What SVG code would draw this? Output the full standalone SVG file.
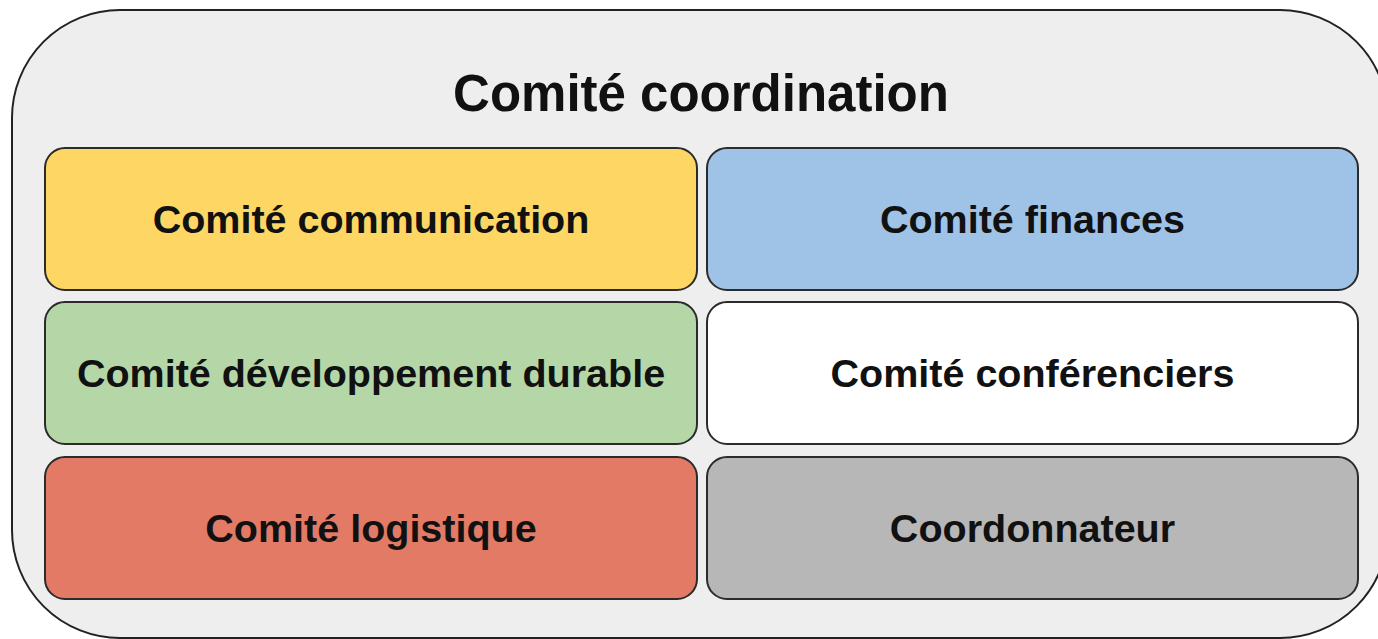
<svg xmlns="http://www.w3.org/2000/svg" width="1378" height="639" viewBox="0 0 1378 639">
  <style>
    .box { stroke: #2b2b2b; stroke-width: 2; }
    .lbl { font-family: "Liberation Sans", Arial, sans-serif; font-weight: bold; font-size: 39.5px; fill: #111111; text-anchor: middle; }
    .title { font-family: "Liberation Sans", Arial, sans-serif; font-weight: bold; font-size: 51px; fill: #111111; text-anchor: middle; }
  </style>
  <rect width="1378" height="639" fill="#ffffff"/>
  <g id="coordination">
    <rect x="12" y="10" width="1376" height="628" rx="108" ry="108" fill="#eeeeee" stroke="#222222" stroke-width="2"/>
    <text class="title" x="701" y="111">Comité coordination</text>
  </g>
  <g id="communication">
    <rect class="box" x="45" y="148" width="652" height="142" rx="20" ry="20" fill="#fdd663"/>
    <text class="lbl" x="371" y="233">Comité communication</text>
  </g>
  <g id="finances">
    <rect class="box" x="707" y="148" width="651" height="142" rx="20" ry="20" fill="#9fc3e7"/>
    <text class="lbl" x="1032.5" y="233">Comité finances</text>
  </g>
  <g id="developpement">
    <rect class="box" x="45" y="302" width="652" height="142" rx="20" ry="20" fill="#b5d7a8"/>
    <text class="lbl" x="371" y="387">Comité développement durable</text>
  </g>
  <g id="conferenciers">
    <rect class="box" x="707" y="302" width="651" height="142" rx="20" ry="20" fill="#ffffff"/>
    <text class="lbl" x="1032.5" y="387">Comité conférenciers</text>
  </g>
  <g id="logistique">
    <rect class="box" x="45" y="457" width="652" height="142" rx="20" ry="20" fill="#e27a66"/>
    <text class="lbl" x="371" y="542">Comité logistique</text>
  </g>
  <g id="coordonnateur">
    <rect class="box" x="707" y="457" width="651" height="142" rx="20" ry="20" fill="#b7b7b7"/>
    <text class="lbl" x="1032.5" y="542">Coordonnateur</text>
  </g>
  <g id="connectors"></g>
</svg>
